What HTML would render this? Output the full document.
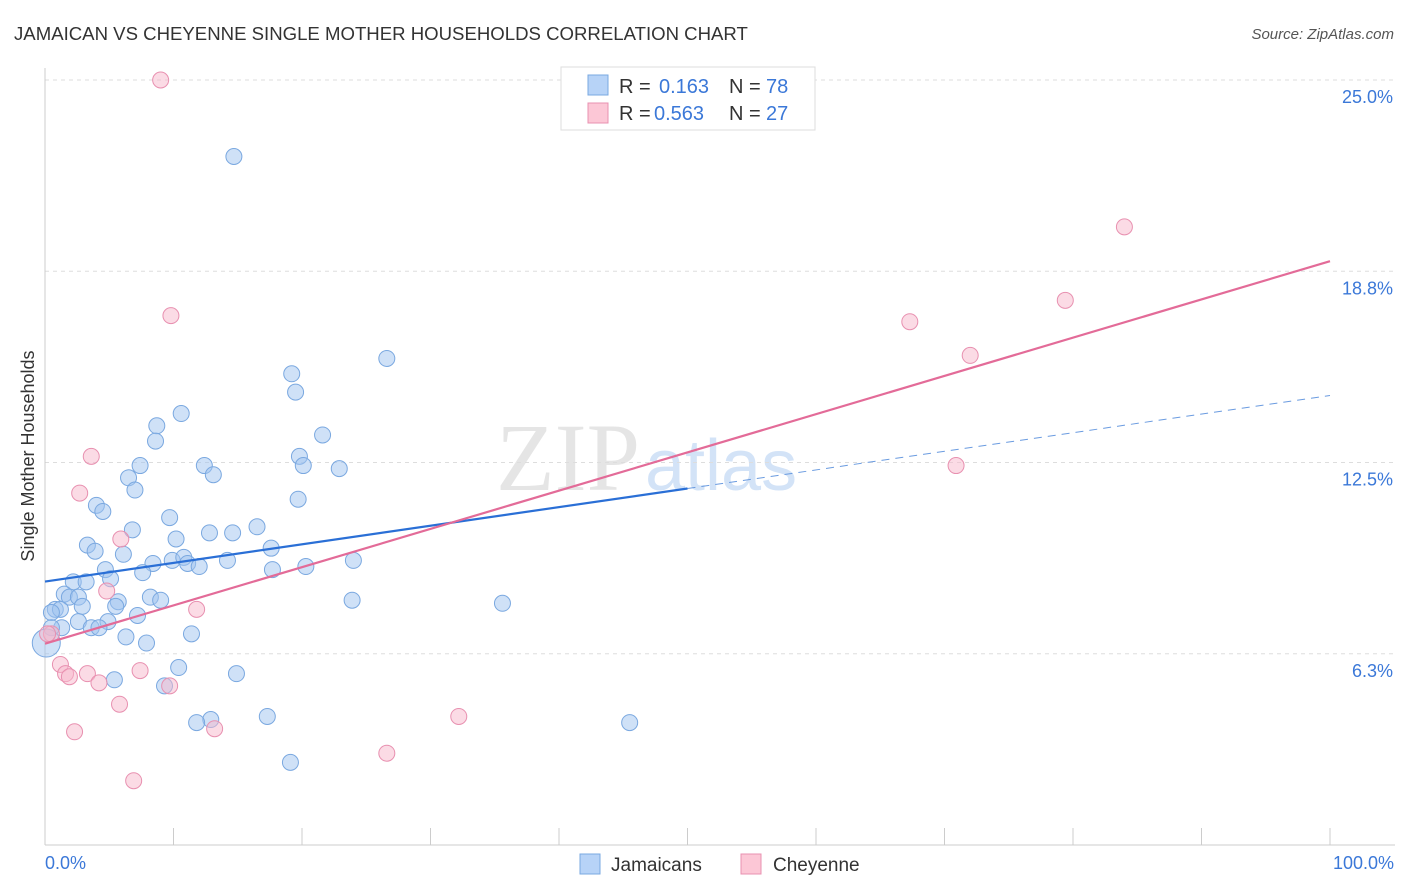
<!DOCTYPE html>
<html><head><meta charset="utf-8"><style>
body{margin:0;background:#fff;font-family:"Liberation Sans",sans-serif;}
svg{display:block}
</style></head><body>
<svg id="c" width="1406" height="892" xmlns="http://www.w3.org/2000/svg">
<text x="14" y="40" font-size="18.6" fill="#333">JAMAICAN VS CHEYENNE SINGLE MOTHER HOUSEHOLDS CORRELATION CHART</text>
<text x="1394" y="39" font-size="15" fill="#555" font-style="italic" text-anchor="end">Source: ZipAtlas.com</text>
<text x="640" y="490" font-size="96" fill="#ccc" opacity="0.5" text-anchor="end" font-family="Liberation Serif,serif">ZIP</text>
<text x="645" y="490" font-size="72" fill="#a8c8f0" opacity="0.5">atlas</text>
<g id="grid"></g>
<g id="axes"></g>
<g id="marks"></g>
<text transform="translate(34,456) rotate(-90)" font-size="18" fill="#333" text-anchor="middle">Single Mother Households</text>
<text x="45" y="869" font-size="18" fill="#3b78d8">0.0%</text>
<text x="1394" y="869" font-size="18" fill="#3b78d8" text-anchor="end">100.0%</text>
<g>
<rect x="561" y="67" width="254" height="63" fill="#fff" stroke="#ddd"/>
<rect x="588" y="75" width="20" height="20" fill="#b7d3f7" stroke="#7aa8e0"/>
<rect x="588" y="103" width="20" height="20" fill="#fcc7d6" stroke="#e890b0"/>
<text x="619" y="93" font-size="20" fill="#333">R = </text><text x="659" y="93" font-size="20" fill="#3b78d8">0.163</text>
<text x="729" y="93" font-size="20" fill="#333">N = </text><text x="766" y="93" font-size="20" fill="#3b78d8">78</text>
<text x="619" y="120" font-size="20" fill="#333">R = </text><text x="654" y="120" font-size="20" fill="#3b78d8">0.563</text>
<text x="729" y="120" font-size="20" fill="#333">N = </text><text x="766" y="120" font-size="20" fill="#3b78d8">27</text>
</g>
<g>
<rect x="580" y="854" width="20" height="20" fill="#b7d3f7" stroke="#7aa8e0"/>
<text x="611" y="871" font-size="19" fill="#333">Jamaicans</text>
<rect x="741" y="854" width="20" height="20" fill="#fcc7d6" stroke="#e890b0"/>
<text x="773" y="871" font-size="19" fill="#333">Cheyenne</text>
</g>
</svg>
<script>
const yTicks=[25.0,18.75,12.5,6.25];
const yTickLabels=["25.0%","18.8%","12.5%","6.3%"];
const blueX=[14.7,26.6,19.2,19.5,10.6,8.7,8.6,21.6,19.8,20.1,7.4,12.4,22.9,13.1,6.5,7.0,19.7,4.0,4.5,9.7,16.5,6.8,12.8,14.6,10.2,3.3,3.9,17.6,6.1,9.9,10.8,24.0,8.4,11.1,12.0,14.2,20.3,17.7,4.7,7.6,5.1,2.2,3.2,1.5,1.9,2.6,8.2,9.0,23.9,35.6,5.7,5.5,2.9,0.8,1.2,0.5,7.2,4.9,2.6,1.3,3.6,4.2,11.4,6.3,7.9,0.5,10.4,14.9,5.4,9.3,12.9,11.8,17.3,45.5,19.1,0.1];
const blueY=[22.5,15.9,15.4,14.8,14.1,13.7,13.2,13.4,12.7,12.4,12.4,12.4,12.3,12.1,12.0,11.6,11.3,11.1,10.9,10.7,10.4,10.3,10.2,10.2,10.0,9.8,9.6,9.7,9.5,9.3,9.4,9.3,9.2,9.2,9.1,9.3,9.1,9.0,9.0,8.9,8.7,8.6,8.6,8.2,8.1,8.1,8.1,8.0,8.0,7.9,7.95,7.8,7.8,7.7,7.7,7.6,7.5,7.3,7.3,7.1,7.1,7.1,6.9,6.8,6.6,7.1,5.8,5.6,5.4,5.2,4.1,4.0,4.2,4.0,2.7,6.6];
const pinkX=[9.0,84.0,79.4,67.3,9.8,72.0,70.9,3.6,2.7,5.9,4.8,11.8,0.5,0.2,1.2,1.6,1.9,3.3,4.2,7.4,9.7,5.8,2.3,13.2,32.2,26.6,6.9];
const pinkY=[25.0,20.2,17.8,17.1,17.3,16.0,12.4,12.7,11.5,10.0,8.3,7.7,6.9,6.9,5.9,5.6,5.5,5.6,5.3,5.7,5.2,4.6,3.7,3.8,4.2,3.0,2.1];
const blueTrend=[8.61,14.69];
const pinkTrend=[6.58,19.08];
const X0=45,X1=1330,Y0=845,Y1=80;
const sx=v=>X0+(X1-X0)*v/100;
const sy=v=>Y0-(Y0-Y1)*v/25;
const NS="http://www.w3.org/2000/svg";
function mk(tag,attrs,parent){const e=document.createElementNS(NS,tag);for(const k in attrs)e.setAttribute(k,attrs[k]);document.getElementById(parent).appendChild(e);return e;}
yTicks.forEach((t,i)=>{
 const l=mk('line',{x1:45,x2:1395,y1:sy(t),y2:sy(t),stroke:'#ddd','stroke-dasharray':'4,4'},'grid');
 
 
 const tx=mk('text',{x:1393,y:sy(t)+23,'font-size':18,fill:'#3b78d8','text-anchor':'end'},'grid');
 tx.textContent=yTickLabels[i];
 
 
});
const ax=mk('line',{x1:45,x2:45,y1:68,y2:845,stroke:'#ccc'},'axes');


const bx=mk('line',{x1:45,x2:1395,y1:845,y2:845,stroke:'#ccc'},'axes');


for(let i=0;i<=10;i++){
 const t=mk('line',{x1:sx(i*10),x2:sx(i*10),y1:828,y2:845,stroke:'#ccc'},'axes');
 
 
}
blueX.forEach((x,i)=>{
 const big=i===blueX.length-1;
 const c=mk('circle',{cx:sx(x),cy:sy(blueY[i]),r:big?14:8,fill:'rgba(160,196,240,0.5)',stroke:'#7aa8e0','stroke-width':1},'marks');
 
 
});
pinkX.forEach((x,i)=>{
 const c=mk('circle',{cx:sx(x),cy:sy(pinkY[i]),r:8,fill:'rgba(248,184,204,0.5)',stroke:'#e890b0','stroke-width':1},'marks');
 
 
});
const bmid=blueTrend[0]+(blueTrend[1]-blueTrend[0])*0.5;
const b1=mk('line',{x1:sx(0),y1:sy(blueTrend[0]),x2:sx(50),y2:sy(bmid),stroke:'#2a6fd6','stroke-width':2.2},'marks');


const b2=mk('line',{x1:sx(50),y1:sy(bmid),x2:sx(100),y2:sy(blueTrend[1]),stroke:'#6a9be0','stroke-width':1,'stroke-dasharray':'8,6'},'marks');


const p1=mk('line',{x1:sx(0),y1:sy(pinkTrend[0]),x2:sx(100),y2:sy(pinkTrend[1]),stroke:'#e36b98','stroke-width':2.2},'marks');


</script>
</body></html>
